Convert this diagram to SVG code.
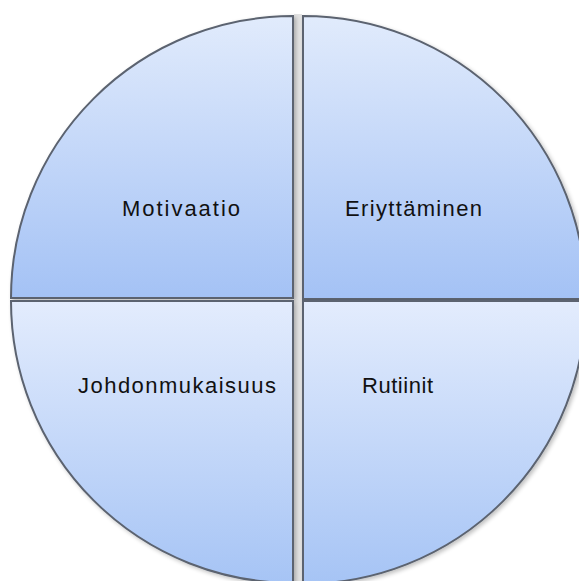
<svg xmlns="http://www.w3.org/2000/svg" width="579" height="581" viewBox="0 0 579 581">
  <defs>
    <linearGradient id="gTop" gradientUnits="userSpaceOnUse" x1="0" y1="16" x2="0" y2="298">
      <stop offset="0" stop-color="#e1ebfc"/>
      <stop offset="1" stop-color="#a4c2f5"/>
    </linearGradient>
    <linearGradient id="gBot" gradientUnits="userSpaceOnUse" x1="0" y1="301" x2="0" y2="583">
      <stop offset="0" stop-color="#e3ecfd"/>
      <stop offset="1" stop-color="#a6c4f5"/>
    </linearGradient>
    <filter id="sh" x="-10%" y="-10%" width="120%" height="120%">
      <feGaussianBlur in="SourceAlpha" stdDeviation="2"/>
      <feOffset dx="2" dy="2"/>
      <feComponentTransfer><feFuncA type="linear" slope="0.25"/></feComponentTransfer>
      <feMerge><feMergeNode/><feMergeNode in="SourceGraphic"/></feMerge>
    </filter>
  </defs>
  <style>
    .q { stroke: #5b6370; stroke-width: 2; filter: url(#sh); }
    .t { font-family: "Liberation Sans", Arial, sans-serif; font-size: 22px; fill: #111; }
  </style>
  <rect width="579" height="581" fill="#ffffff"/>
  <rect x="294" y="14" width="8" height="567" fill="#e2e2e2"/>
  <g id="motivaatio">
    <path class="q" fill="url(#gTop)" d="M 293 298 L 11 298 A 282 282 0 0 1 293 16 Z"/>
    <text class="t" x="122" y="216" textLength="118" lengthAdjust="spacing">Motivaatio</text>
  </g>
  <g id="eriyttaminen">
    <path class="q" fill="url(#gTop)" d="M 303 299 L 303 16 A 283 283 0 0 1 586 299 Z"/>
    <text class="t" x="345" y="216" textLength="137" lengthAdjust="spacing">Eriyttäminen</text>
  </g>
  <g id="johdonmukaisuus">
    <path class="q" fill="url(#gBot)" d="M 293 301 L 293 583 A 282 282 0 0 1 11 301 Z"/>
    <text class="t" x="78" y="393" textLength="198" lengthAdjust="spacing">Johdonmukaisuus</text>
  </g>
  <g id="rutiinit">
    <path class="q" fill="url(#gBot)" d="M 303 301 L 586 301 A 283 283 0 0 1 303 584 Z"/>
    <text class="t" x="362" y="393" textLength="71" lengthAdjust="spacing">Rutiinit</text>
  </g>
  <g id="connectors"/>
</svg>
